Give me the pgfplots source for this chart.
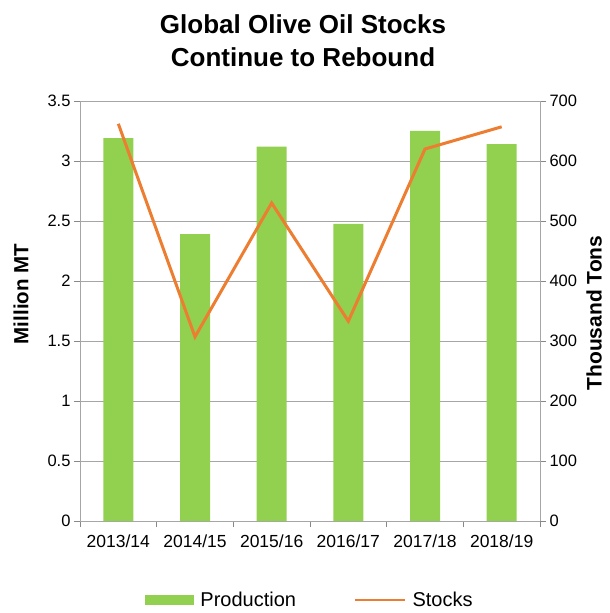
\documentclass[border=0pt]{standalone}
\usepackage{pgfplots}
\pgfplotsset{compat=1.18}
\usepackage{fontspec}
\setmainfont{Liberation Sans}
\definecolor{prodgreen}{HTML}{92D050}
\definecolor{stockorange}{HTML}{ED7D31}
\definecolor{axgray}{HTML}{888888}
\definecolor{gridgray}{HTML}{A6A6A6}
\begin{document}
\begin{tikzpicture}
\path[use as bounding box] (-80pt,-92pt) rectangle (530pt,521pt);
\pgfplotsset{every axis/.append style={
  scale only axis, width=460pt, height=420pt,
  at={(0pt,0pt)}, anchor=south west,
  xmin=-0.5, xmax=5.5,
  axis line style={gridgray, line width=0.8pt},
  tick style={axgray, line width=0.8pt},
  tick align=outside, major tick length=6pt, minor tick length=6pt,
  tick label style={font=\fontsize{16.5}{18}\selectfont},
  /pgf/number format/assume math mode=true}}
% production, left axis
\begin{axis}[
  ymin=0, ymax=3.5, ytick={0,0.5,...,3.5}, ytick pos=left,
  yticklabel style={/pgf/number format/fixed},
  ymajorgrids, grid style={gridgray, line width=0.8pt},
  xtick={0,...,5}, xtick pos=bottom,
  xticklabels={2013/14,2014/15,2015/16,2016/17,2017/18,2018/19},
  major x tick style={draw=none},
  minor xtick={-0.5,0.5,...,5.5},
  xticklabel style={yshift=-4pt, font=\fontsize{17.5}{19}\selectfont},
  legend style={at={(axis description cs:0.5,0)}, anchor=north, yshift=-67pt,
    draw=none, fill=none, font=\fontsize{20}{22}\selectfont,
    /tikz/every odd column/.append style={column sep=4pt},
    /tikz/every even column/.append style={column sep=56pt}},
  legend columns=2]
\addplot[ybar, bar width=30pt, fill=prodgreen, draw=none,
  legend image code/.code={\fill[prodgreen] (0pt,-5pt) rectangle (49pt,5pt);}]
  coordinates {(0,3.19)(1,2.39)(2,3.12)(3,2.475)(4,3.25)(5,3.14)};
\addlegendentry{Production}
\addlegendimage{legend image code/.code={\draw[stockorange, line width=2.5pt] (0pt,0pt) -- (50pt,0pt);}}
\addlegendentry{Stocks}
\end{axis}
% stocks, right axis
\begin{axis}[
  ymin=0, ymax=700, ytick={0,100,...,700},
  axis y line*=right, axis x line=none]
\addplot[stockorange, line width=3pt]
  coordinates {(0,662)(1,307)(2,530)(3,333)(4,620)(5,657)};
\end{axis}
\node[align=center, font=\fontsize{26}{33}\selectfont\bfseries] at (223pt,480pt)
  {Global Olive Oil Stocks\\Continue to Rebound};
\node[rotate=90, font=\fontsize{20.5}{22}\selectfont\bfseries] at (-59pt,227pt) {Million MT};
\node[rotate=90, font=\fontsize{21}{22}\selectfont\bfseries] at (514pt,208pt) {Thousand Tons};
\end{tikzpicture}
\end{document}
